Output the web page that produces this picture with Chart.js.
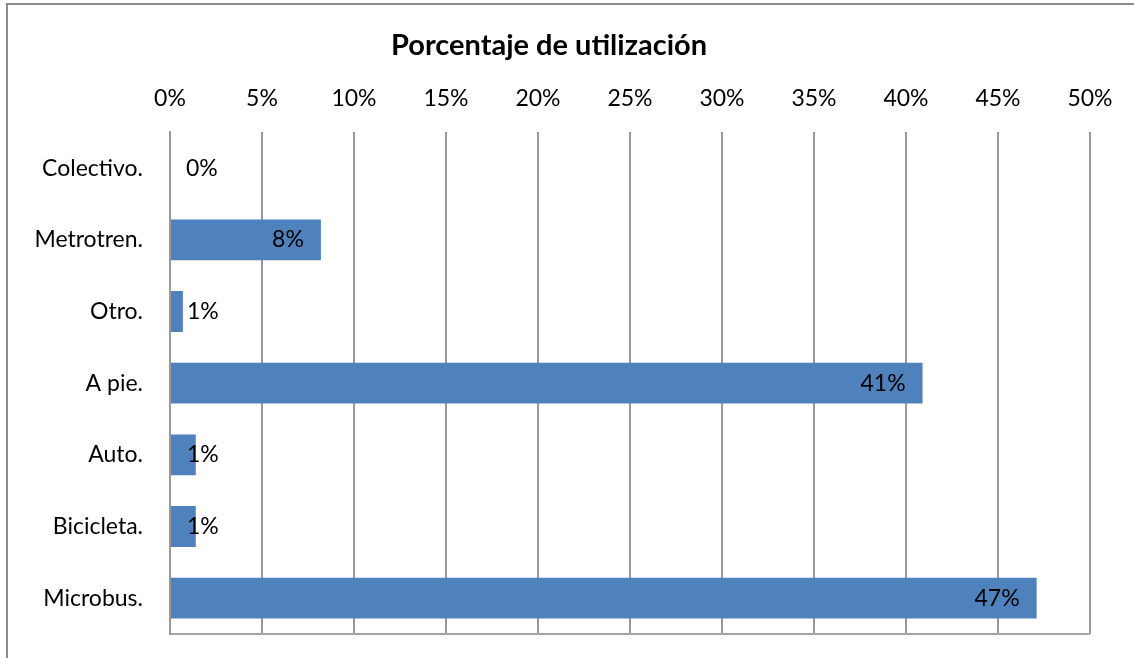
<!DOCTYPE html>
<html>
<head>
<meta charset="utf-8">
<script src="https://cdn.jsdelivr.net/npm/chart.js@4/dist/chart.umd.min.js"></script>
<style>
  html, body { margin: 0; padding: 0; background: #fff; overflow: hidden; }
  body { width: 1134px; height: 658px; position: relative; }
  .frame { position: absolute; left: 6px; top: 3px; width: 1200px; height: 700px; border: 2px solid #8c8c8c; box-sizing: border-box; }
  .wrap { position: absolute; left: 8px; top: 5px; width: 1136px; height: 653px; }
</style>
</head>
<body>
<div class="frame"></div>
<div class="wrap"><canvas id="chart"></canvas></div>
<script>
const categories = ['Colectivo.', 'Metrotren.', 'Otro.', 'A pie.', 'Auto.', 'Bicicleta.', 'Microbus.'];
const usage = [0, 8.2, 0.7, 40.9, 1.4, 1.4, 47.1];
const tickMax = 50;
const tickStep = 5;

const FONT = 'Lato, "Open Sans", sans-serif';

// Excel-style labels: inside end, pushed right when the bar is too short
const barLabels = {
    id: 'barLabels',
    afterDatasetsDraw(chart) {
        const ctx = chart.ctx;
        const meta = chart.getDatasetMeta(0);
        ctx.save();
        ctx.font = '23px ' + FONT;
        ctx.fillStyle = '#000';
        ctx.textBaseline = 'middle';
        ctx.textAlign = 'left';
        meta.data.forEach((bar, i) => {
            const txt = Math.round(usage[i]) + '%';
            const w = ctx.measureText(txt).width;
            const left = Math.max(bar.x - 17 - w, bar.base + 16);
            ctx.fillText(txt, left, bar.y);
        });
        ctx.restore();
    }
};

new Chart(document.getElementById('chart'), {
    type: 'bar',
    data: {
        labels: categories,
        datasets: [{
            data: usage,
            backgroundColor: '#4f81bd',
            barPercentage: 0.57,
            categoryPercentage: 1
        }]
    },
    options: {
        indexAxis: 'y',
        responsive: true,
        maintainAspectRatio: false,
        animation: false,
        layout: { padding: { left: 0, right: 54, top: 0, bottom: 24 } },
        plugins: {
            legend: { display: false },
            tooltip: { enabled: false },
            title: {
                display: true,
                text: 'Porcentaje de utilización',
                color: '#000',
                font: { family: FONT, size: 29, weight: 'bold' },
                padding: { top: 23, bottom: 2 }
            }
        },
        scales: {
            x: {
                position: 'top',
                min: 0,
                max: tickMax,
                ticks: {
                    stepSize: tickStep,
                    color: '#000',
                    font: { family: FONT, size: 23 },
                    padding: 20,
                    callback: v => v + '%'
                },
                grid: { color: '#999', lineWidth: 2, drawTicks: false },
                border: { display: false }
            },
            y: {
                ticks: {
                    color: '#000',
                    font: { family: FONT, size: 23 },
                    padding: 27
                },
                grid: {
                    drawTicks: false,
                    lineWidth: 2,
                    color: c => c.type === 'scale' ? '#a6a6a6' : 'rgba(0,0,0,0)'
                },
                border: { display: true, color: '#999', width: 2 },
                afterFit: s => {
                    s.width = 162;
                    s.paddingTop = 0;
                    s.paddingBottom = 0;
                }
            }
        }
    },
    plugins: [barLabels]
});
</script>
</body>
</html>
